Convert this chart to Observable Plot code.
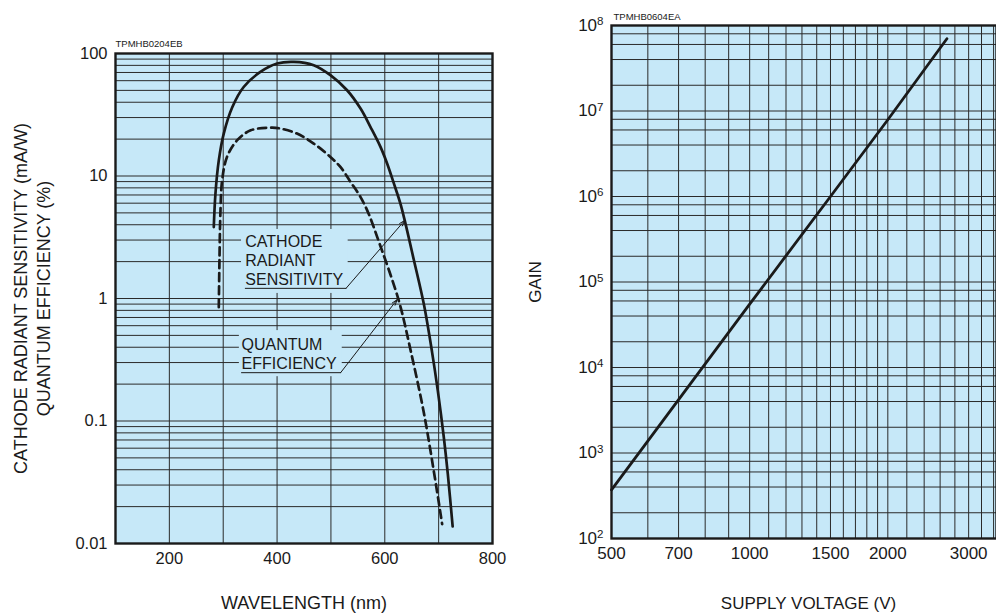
<!DOCTYPE html>
<html>
<head>
<meta charset="utf-8">
<script src="https://cdn.jsdelivr.net/npm/d3@7"></script>
<script src="https://cdn.jsdelivr.net/npm/@observablehq/plot@0.6"></script>
<style>
  html, body { margin: 0; padding: 0; background: #fff; }
  #wrap { position: relative; width: 996px; height: 613px; overflow: hidden; background: #fff; }
  #left, #right { position: absolute; top: 0; }
  #left { left: 0; }
  #right { left: 500px; }
</style>
</head>
<body>
<div id="wrap"><div id="left"></div><div id="right"></div></div>
<script>
// ---------- Left chart data: spectral response ----------
const wavelengthCRS = [282.5, 285.6, 291.8, 301, 317, 338, 369, 400, 431, 468, 499, 530, 555, 573.5, 592, 604.5, 617, 629, 637, 654, 672.5, 688, 698.5, 709.7, 717, 726];
const radiantSensitivity = [3.83, 7.2, 13.4, 22.2, 36.6, 53.3, 70.7, 82.8, 85.4, 80.2, 66.5, 50.1, 35.5, 25.1, 17.3, 12.6, 8.66, 5.95, 4.34, 2.06, 0.9, 0.36, 0.176, 0.073, 0.037, 0.0138];
const wavelengthQE = [291.8, 293, 294.9, 298, 307, 326, 351, 390, 406, 437, 468, 499, 518, 536, 555, 570, 586, 626, 648, 672, 691, 706.5];
const quantumEfficiency = [0.85, 2.0, 5.2, 9.2, 14.3, 19.6, 23.6, 24.8, 24.4, 22.2, 18.4, 14.3, 11.8, 9.0, 6.73, 4.92, 3.17, 0.96, 0.376, 0.12, 0.039, 0.0144];

const leftXTicks = [200, 400, 600, 800];
const leftXGrid = [200, 300, 400, 500, 600, 700];
const leftYTicks = [0.01, 0.1, 1, 10, 100];
const leftYTickLabels = ["0.01", "0.1", "1", "10", "100"];
const leftDecades = [0.01, 0.1, 1, 10];
const leftMultiples = [1, 2, 3, 4, 5, 6, 7, 8, 9];

// annotation positions (data units: wavelength nm, value)
const crsLabel = {x: 341, y: 2.07, text: "CATHODE\nRADIANT\nSENSITIVITY"};
const crsUnder = [{x: 341, y: 1.21}, {x: 528, y: 1.21}];
const crsArrow = {x1: 528, y1: 1.21, x2: 637, y2: 4.34};
const crsBox = {x1: 334, x2: 532, y1: 1.10, y2: 3.66};
const qeLabel = {x: 334, y: 0.359, text: "QUANTUM\nEFFICIENCY"};
const qeUnder = [{x: 334, y: 0.248}, {x: 518, y: 0.248}];
const qeArrow = {x1: 518, y1: 0.248, x2: 623, y2: 0.98};
const qeBox = {x1: 330, x2: 521, y1: 0.230, y2: 0.547};

// ---------- Right chart data: gain vs supply voltage ----------
const supplyVoltage = [500, 1000, 1500, 2000, 2690];
const gain = [370, 5.5e4, 1.0e6, 7.9e6, 7.0e7];
const rightXTicks = [500, 700, 1000, 1500, 2000, 3000];
const rightXGrid = [500, 600, 700, 800, 900, 1000, 1100, 1200, 1300, 1400, 1500, 1600, 1700, 1800, 1900, 2000, 2200, 2400, 2600, 2800, 3000, 3200, 3400];
const rightYTicks = [1e2, 1e3, 1e4, 1e5, 1e6, 1e7, 1e8];
const rightDecades = [1e2, 1e3, 1e4, 1e5, 1e6, 1e7];
const rightMultiples = [1, 2, 4, 6, 8];

const BG = "#c6e8f8";
const GRID = "#2a2a2a";
const INK = "#1a1a1a";
const FONT = "'Liberation Sans', Arial, Helvetica, sans-serif";

const leftYGrid = leftDecades.flatMap(d => leftMultiples.map(m => d * m)).concat([100]);
const rightYGrid = rightDecades.flatMap(d => rightMultiples.map(m => d * m)).concat([1e8]);

const crsData = wavelengthCRS.map((x, i) => ({x, y: radiantSensitivity[i]}));
const qeData = wavelengthQE.map((x, i) => ({x, y: quantumEfficiency[i]}));
const gainData = supplyVoltage.map((x, i) => ({x, y: gain[i]}));

const left = Plot.plot({
  width: 512, height: 613,
  marginLeft: 115, marginRight: 20, marginTop: 53, marginBottom: 70,
  style: {fontFamily: FONT, fontSize: "16.5px", color: INK, background: "transparent"},
  x: {domain: [100, 800], ticks: leftXTicks, tickFormat: d => String(d), tickSize: 0, tickPadding: 9, label: null},
  y: {type: "log", domain: [0.01, 100], ticks: leftYTicks, tickFormat: d => leftYTickLabels[leftYTicks.indexOf(d)], tickSize: 0, tickPadding: 8, label: null},
  marks: [
    Plot.frame({fill: BG, stroke: null}),
    Plot.ruleY(leftYGrid, {stroke: GRID, strokeWidth: 1}),
    Plot.ruleX(leftXGrid, {stroke: GRID, strokeWidth: 1}),
    Plot.rect([crsBox, qeBox], {x1: "x1", x2: "x2", y1: "y1", y2: "y2", fill: BG}),
    Plot.line(crsUnder, {x: "x", y: "y", stroke: INK, strokeWidth: 1}),
    Plot.line(qeUnder, {x: "x", y: "y", stroke: INK, strokeWidth: 1}),
    Plot.arrow([crsArrow, qeArrow], {x1: "x1", y1: "y1", x2: "x2", y2: "y2", stroke: INK, strokeWidth: 1, headLength: 9, headAngle: 35}),
    Plot.text([crsLabel, qeLabel], {x: "x", y: "y", text: "text", textAnchor: "start", lineAnchor: "middle", lineHeight: 1.2, fontSize: 16, fill: INK}),
    Plot.line(qeData, {x: "x", y: "y", curve: "catmull-rom", stroke: INK, strokeWidth: 2.7, strokeDasharray: "8,5"}),
    Plot.line(crsData, {x: "x", y: "y", curve: "catmull-rom", stroke: INK, strokeWidth: 2.7}),
    Plot.frame({stroke: INK, strokeWidth: 2.4}),
    Plot.text(["TPMHB0204EB"], {frameAnchor: "top-left", dy: -7, lineAnchor: "bottom", textAnchor: "start", fontSize: 9.5, fill: INK}),
    Plot.text(["CATHODE RADIANT SENSITIVITY (mA/W)\nQUANTUM EFFICIENCY (%)"], {frameAnchor: "left", dx: -84.5, rotate: -90, lineAnchor: "middle", textAnchor: "middle", lineHeight: 1.28, fontSize: 18, fill: INK}),
    Plot.text(["WAVELENGTH (nm)"], {frameAnchor: "bottom", dy: 60, lineAnchor: "middle", textAnchor: "middle", fontSize: 18, fill: INK})
  ]
});
document.getElementById("left").appendChild(left);

const right = Plot.plot({
  width: 496, height: 613,
  marginLeft: 111, marginRight: 0, marginTop: 25, marginBottom: 75,
  style: {fontFamily: FONT, fontSize: "17px", color: INK, background: "transparent"},
  x: {type: "log", domain: [500, 3450], ticks: rightXTicks, tickFormat: d => String(d), tickSize: 0, tickPadding: 8, label: null},
  y: {type: "log", domain: [1e2, 1e8], ticks: rightYTicks, tickFormat: d => "10^" + Math.round(Math.log10(d)), tickSize: 0, tickPadding: 8, label: null},
  marks: [
    Plot.frame({fill: BG, stroke: null}),
    Plot.ruleY(rightYGrid, {stroke: GRID, strokeWidth: 1}),
    Plot.ruleX(rightXGrid, {stroke: GRID, strokeWidth: 1}),
    Plot.line(gainData, {x: "x", y: "y", stroke: INK, strokeWidth: 2.8}),
    Plot.frame({stroke: INK, strokeWidth: 2.4}),
    Plot.text(["TPMHB0604EA"], {frameAnchor: "top-left", dx: 2, dy: -5.5, lineAnchor: "bottom", textAnchor: "start", fontSize: 9.5, fill: INK}),
    Plot.text(["GAIN"], {frameAnchor: "left", dx: -76, rotate: -90, lineAnchor: "middle", textAnchor: "middle", fontSize: 17, fill: INK}),
    Plot.text(["SUPPLY VOLTAGE (V)"], {frameAnchor: "bottom", dx: 4.5, dy: 65, lineAnchor: "middle", textAnchor: "middle", fontSize: 17, fill: INK})
  ]
});
document.getElementById("right").appendChild(right);

// superscript exponents on gain tick labels
d3.select(right).selectAll("text").each(function () {
  const m = /^10\^(\d+)$/.exec(this.textContent);
  if (m) {
    const s = d3.select(this);
    s.text(null);
    s.append("tspan").text("10");
    s.append("tspan").attr("dy", "-0.5em").attr("font-size", "0.68em").text(m[1]);
  }
});
</script>
</body>
</html>
